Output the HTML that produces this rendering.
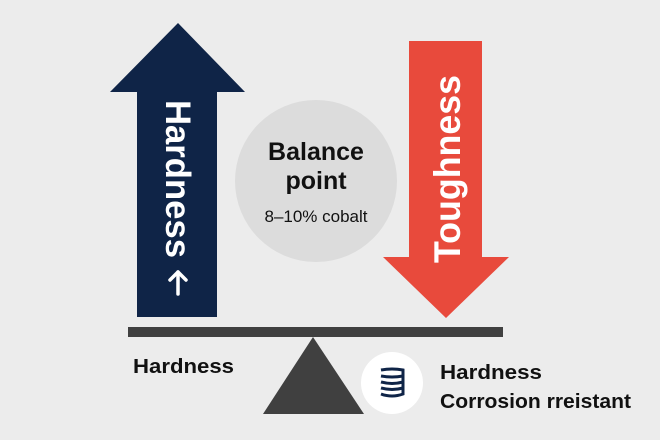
<!DOCTYPE html>
<html><head><meta charset="utf-8"><style>html,body{margin:0;padding:0;background:#ececec;}svg{display:block}</style></head>
<body>
<svg width="660" height="440" viewBox="0 0 660 440" xmlns="http://www.w3.org/2000/svg" font-family="Liberation Sans, Arial, sans-serif">
<rect width="660" height="440" fill="#ececec"/>
<polygon points="178,23 245,92 217,92 217,317 137,317 137,92 110,92" fill="#0f2447"/>
<polygon points="409,41 482,41 482,257 509,257 446,318 383,257 409,257" fill="#e84a3c"/>
<circle cx="316" cy="181" r="81" fill="#dcdcdc"/>
<text x="316" y="160" text-anchor="middle" font-size="25" font-weight="bold" fill="#111">Balance</text>
<text x="316" y="189" text-anchor="middle" font-size="25" font-weight="bold" fill="#111">point</text>
<text x="316" y="222" text-anchor="middle" font-size="17" fill="#111">8–10% cobalt</text>
<text transform="translate(166,100) rotate(90)" font-size="35" font-weight="bold" fill="#fff" textLength="158" lengthAdjust="spacingAndGlyphs">Hardness</text>
<g stroke="#fff" stroke-width="3.5" fill="none" stroke-linecap="round" stroke-linejoin="round">
<path d="M178,272 L178,294"/>
<path d="M170,280 L178,272 L186,280"/>
</g>
<text transform="translate(460,263) rotate(-90)" font-size="37" font-weight="bold" fill="#fff" textLength="188" lengthAdjust="spacingAndGlyphs">Toughness</text>
<rect x="128" y="327" width="375" height="10" fill="#404040"/>
<polygon points="313,337 364,414 263,414" fill="#404040"/>
<circle cx="392" cy="383" r="31" fill="#fff"/>
<g fill="none" stroke="#0f2447" stroke-width="3">
<path d="M381,370 Q392,368 403,370 L403,394 Q392,398 381,394"/>
<path d="M381,376 Q392,378 403,376"/>
<path d="M381,382 Q392,385 403,382"/>
<path d="M381,388 Q392,391 403,388"/>
</g>
<text x="133" y="373" font-size="20" font-weight="bold" fill="#111" textLength="101" lengthAdjust="spacingAndGlyphs">Hardness</text>
<text x="440" y="379" font-size="20" font-weight="bold" fill="#111" textLength="102" lengthAdjust="spacingAndGlyphs">Hardness</text>
<text x="440" y="408" font-size="20" font-weight="bold" fill="#111" textLength="191" lengthAdjust="spacingAndGlyphs">Corrosion rreistant</text>
</svg>
</body></html>
